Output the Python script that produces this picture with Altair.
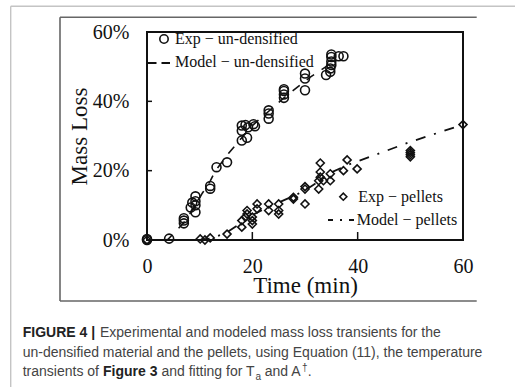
import altair as alt
import pandas as pd

# ---------------- data ----------------
ud_t = [0, 0, 4.2, 7, 7, 7, 8.3, 8.6, 9.2, 9.2, 9.2, 9.2, 12, 12, 13.2, 15.2,
        18, 18, 18, 18.7, 19, 19.2, 20.2, 20.5, 23.1, 23.1, 23.1,
        26, 26, 26, 26, 30, 30, 30, 34, 34.8, 34.8, 35, 35, 35, 35, 36.4, 37.3]
ud_y = [0, 0.3, 0.4, 4.8, 5.6, 6.3, 9.4, 10.8, 8.0, 10.0, 11.2, 12.6, 14.8, 15.6, 21, 22.4,
        28.7, 31.5, 33, 33.2, 29.5, 32.5, 33.4, 32.8, 35, 36.5, 37.4,
        41, 42, 43, 43.5, 43.2, 46.6, 48, 47.6, 48.5, 49.5, 50.5, 51.5, 52.8, 53.5, 53, 53]

udm_t = [3.5, 4, 7, 9, 10.5, 12, 13, 15.5, 18, 20, 23, 26, 28.5, 31, 34, 35]
udm_y = [0, 0.2, 5, 9.5, 13.5, 17, 20, 25, 29.5, 33, 37, 41, 44, 47, 50, 51.5]

pel_t = [0, 10.1, 11, 12, 15.2, 18, 18, 18.7, 19, 19, 20, 20, 20, 20.9, 20.9,
         23.1, 23.1, 25, 25, 25, 27.8, 27.8, 30, 30, 30, 32.6, 32.6, 32.9, 32.9, 32.9,
         33.5, 34.8, 34.8, 37.3, 38, 39.9, 50, 50, 50, 50, 60]
pel_y = [0, 0.3, 0, 0.6, 1.7, 3.7, 5.6, 6.6, 7.5, 8.5, 4.6, 5.6, 6.6, 9, 10.4,
         8.5, 10.4, 7.5, 8.5, 10.4, 11.8, 12.3, 10.4, 14.7, 15.4, 14.7, 17.1, 18.1, 19.6, 22.2,
         17.1, 17.1, 19.1, 20, 23.1, 20.5, 24, 24.6, 25.2, 25.8, 33.3]

pelm_t = [10, 12, 15, 18, 20, 23, 25, 28, 30, 33, 35, 38, 40, 50, 60]
pelm_y = [0, 0.4, 2, 5, 7.2, 9.5, 10.8, 12.8, 14.3, 17.3, 19.5, 21.6, 22.7, 28.3, 33.3]

x_ticks = [0, 20, 40, 60]
y_ticks = [0, 0.2, 0.4, 0.6]

caption1_bold = "FIGURE 4 |"
caption1 = "Experimental and modeled mass loss transients for the"
caption2 = "un-densified material and the pellets, using Equation (11), the temperature"
caption3a = "transients of"
caption3b = "Figure 3"
caption3c = "and fitting for T"
caption3d = "a"
caption3e = "and A"
caption3f = "\u2020"
caption3g = "."

# ---------------- layout ----------------
W, H = 316, 208
SERIF = "Liberation Serif"
SANS = "Liberation Sans"
INK = "#111111"

ud = pd.DataFrame({"t": ud_t, "y": [v / 100 for v in ud_y]})
udm = pd.DataFrame({"t": udm_t, "y": [v / 100 for v in udm_y]})
pel = pd.DataFrame({"t": pel_t, "y": [v / 100 for v in pel_y]})
pelm = pd.DataFrame({"t": pelm_t, "y": [v / 100 for v in pelm_y]})
xt = pd.DataFrame({"v": x_ticks[1:-1]})
yt = pd.DataFrame({"v": y_ticks[1:-1]})

xscale = alt.Scale(domain=[0, 60], nice=False, zero=False)
yscale = alt.Scale(domain=[0, 0.6], nice=False)

X = alt.X("t:Q", scale=xscale,
          axis=alt.Axis(values=x_ticks, title="Time (min)", format="d",
                        labelFlush=False, labelOverlap=False,
                        labelBaseline="alphabetic", labelPadding=32,
                        titleX=W / 2, titleY=52, titleBaseline="alphabetic",
                        titleAlign="center"))
Y = alt.Y("y:Q", scale=yscale,
          axis=alt.Axis(values=y_ticks, title="Mass Loss", format=".0%",
                        labelFlush=False, labelOverlap=False,
                        labelPadding=18, titleX=-68, titleY=H / 2,
                        titleAngle=270, titleAlign="center", titleBaseline="middle"))

model_ud = alt.Chart(udm).mark_line(color=INK, strokeWidth=1.6, strokeDash=[9, 9]).encode(
    x=X, y=Y, order="t:Q")
model_pel = alt.Chart(pelm).mark_line(color=INK, strokeWidth=1.8, strokeDash=[10, 9, 2, 9]).encode(
    x="t:Q", y="y:Q", order="t:Q")
pts_ud = alt.Chart(ud).mark_point(shape="circle", size=80, filled=False, color=INK,
                                  strokeWidth=1.6, opacity=1).encode(x="t:Q", y="y:Q")
pts_pel = alt.Chart(pel).mark_point(shape="diamond", size=64, filled=False, color=INK,
                                    strokeWidth=1.6, opacity=1).encode(x="t:Q", y="y:Q")

tick_x = alt.Chart(xt).mark_rule(color=INK, strokeWidth=1.5).encode(
    x="v:Q", y=alt.value(H), y2=alt.value(H - 8))
tick_y = alt.Chart(yt).mark_rule(color=INK, strokeWidth=1.5).encode(
    y="v:Q", x=alt.value(0), x2=alt.value(5))


def rule(x1, y1, x2, y2, color, width, dash=None):
    kw = dict(color=color, strokeWidth=width)
    if dash:
        kw["strokeDash"] = dash
    return alt.Chart().mark_rule(**kw).encode(
        x=alt.value(x1), y=alt.value(y1), x2=alt.value(x2), y2=alt.value(y2))


def text(s, x, y, font, size, color, weight="normal"):
    return alt.Chart().mark_text(font=font, fontSize=size, color=color, fontWeight=weight,
                                 align="left", baseline="alphabetic").encode(
        x=alt.value(x), y=alt.value(y), text=alt.value(s))


def symbol(shape, x, y, size):
    return alt.Chart().mark_point(shape=shape, size=size, filled=False, color=INK,
                                  strokeWidth=1.6, opacity=1).encode(
        x=alt.value(x), y=alt.value(y))


# frames (relative to the plot origin)
frames = [
    rule(-136.3, -25.7, 368, -25.7, "#c4c4c4", 1.4),
    rule(-136.3, -25.7, -136.3, 356, "#c4c4c4", 1.4),
    rule(-87, -14.7, 329.7, -14.7, "#666666", 1.6),
    rule(-87, -14.7, -87, 269, "#666666", 1.6),
    rule(-87, 269, 329.7, 269, "#666666", 1.6),
]

legend = [
    symbol("circle", 17, 7, 70),
    text("Exp \u2212 un-densified", 28, 12.3, SERIF, 16, INK),
    rule(1, 31, 24, 31, INK, 1.8, [8.5, 5]),
    text("Model \u2212 un-densified", 28, 34.7, SERIF, 16, INK),
    symbol("diamond", 196.3, 164.7, 50),
    text("Exp \u2212 pellets", 211.3, 170, SERIF, 16, INK),
    rule(181, 188, 209, 188, INK, 1.8, [5, 7, 2, 7]),
    text("Model \u2212 pellets", 209.7, 193, SERIF, 16, INK),
]

CAP = "#444444"
CAPB = "#222222"
FS = 14
caption = [
    text(caption1_bold, -124.3, 305, SANS, FS, CAPB, "bold"),
    text(caption1, -47, 305, SANS, FS, CAP),
    text(caption2, -124.3, 324.5, SANS, FS, CAP),
    text(caption3a, -124.3, 344, SANS, FS, CAP),
    text(caption3b, -44, 344, SANS, FS, CAPB, "bold"),
    text(caption3c, 14.4, 344, SANS, FS, CAP),
    text(caption3d, 108.5, 347.5, SANS, 10, CAP),
    text(caption3e, 117.8, 344, SANS, FS, CAP),
    text(caption3f, 155, 338.5, SANS, 10, CAP),
    text(caption3g, 160.7, 344, SANS, FS, CAP),
]

chart = alt.layer(
    model_ud, model_pel, pts_ud, pts_pel, tick_x, tick_y, *frames, *legend, *caption
).properties(
    width=W, height=H,
    autosize=alt.AutoSizeParams(type="none"),
    padding={"left": 147, "top": 32, "right": 52, "bottom": 147},
    background="white",
).configure_view(
    stroke=INK, strokeWidth=2
).configure_axis(
    domain=False, ticks=False, tickSize=0, grid=False,
    labelFont=SERIF, labelFontSize=20, labelColor=INK,
    titleFont=SERIF, titleFontSize=23, titleFontWeight="normal", titleColor=INK,
)

chart.save("out.html", embed_options={"renderer": "svg", "actions": False})
